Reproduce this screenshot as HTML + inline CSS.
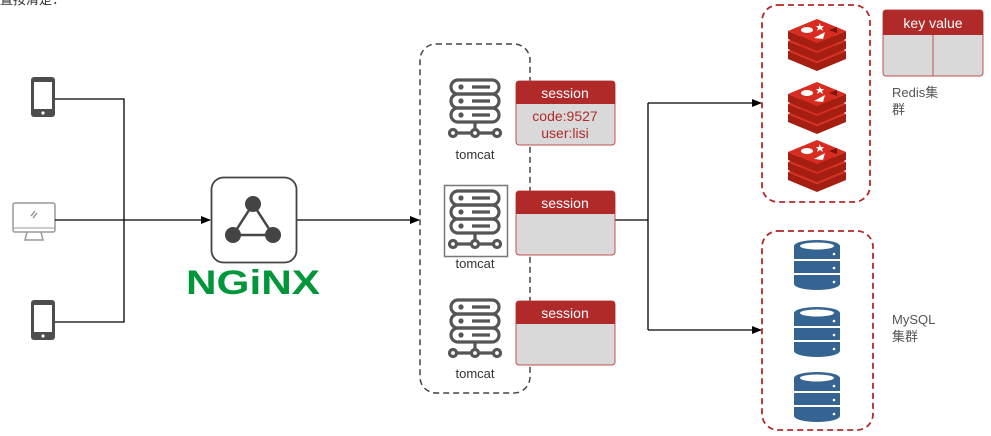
<!DOCTYPE html>
<html><head><meta charset="utf-8"><style>
html,body{margin:0;padding:0;background:#fff;}
svg{display:block;font-family:"Liberation Sans","Noto Sans CJK SC",sans-serif;}
</style></head><body>
<svg width="991" height="436" viewBox="0 0 991 436" xmlns="http://www.w3.org/2000/svg">
<defs>
<marker id="ar" markerWidth="10" markerHeight="10" refX="9" refY="5" orient="auto" markerUnits="userSpaceOnUse"><path d="M0,1 L10,5 L0,9 Z" fill="#000"/></marker>
<g id="phone"><rect x="0" y="0" width="24" height="40" rx="3" fill="#4d4d4d"/><rect x="3" y="5" width="18" height="27" fill="#fff"/><circle cx="12" cy="36" r="1.6" fill="#fff"/></g>
<g id="srv" fill="none" stroke="#555" stroke-width="3.2">
<rect x="-24" y="0" width="48" height="14" rx="7"/><rect x="-24" y="14" width="48" height="14" rx="7"/><rect x="-24" y="28" width="48" height="14" rx="7"/>
<line x1="-3" y1="7" x2="15" y2="7"/><line x1="-3" y1="21" x2="15" y2="21"/><line x1="-3" y1="35" x2="15" y2="35"/>
<circle cx="-14" cy="7" r="1" fill="#555"/><circle cx="-14" cy="21" r="1" fill="#555"/><circle cx="-14" cy="35" r="1" fill="#555"/>
<line x1="0" y1="42" x2="0" y2="50"/><line x1="-19" y1="53" x2="19" y2="53"/>
<circle cx="-22" cy="53" r="3.5" fill="#fff"/><circle cx="0" cy="53" r="3.5" fill="#fff"/><circle cx="22" cy="53" r="3.5" fill="#fff"/>
</g>
<g id="redis">
<path d="M-29,30 L0,42 L29,30 L29,38 L0,50 L-29,38 Z" fill="#a41e11"/>
<path d="M-29,30 L0,18 L29,30 L0,42 Z" fill="#d82c20"/>
<path d="M-29,20 L0,32 L29,20 L29,28 L0,40 L-29,28 Z" fill="#a41e11"/>
<path d="M-29,20 L0,8 L29,20 L0,32 Z" fill="#d82c20"/>
<path d="M-29,10 L0,22 L29,10 L29,18 L0,30 L-29,18 Z" fill="#a41e11"/>
<path d="M-29,10 L0,-2 L29,10 L0,22 Z" fill="#d82c20"/>
<ellipse cx="-10" cy="9" rx="6" ry="3" fill="#fff"/><path d="M2,2 l2,3 l3,0 l-2,2 l1,3 l-3,-2 l-3,2 l1,-3 l-2,-2 l3,0z" fill="#fff"/>
<path d="M-3,17 L8,11 L6,18 Z" fill="#fff"/><path d="M12,9 L20,6 L20,12 Z" fill="#7a1208"/>
</g>
<g id="db">
<path d="M-23,6 v38 a23,6 0 0 0 46,0 v-38" fill="#356492"/>
<ellipse cx="0" cy="6" rx="23" ry="6" fill="#356492"/>
<ellipse cx="0" cy="6" rx="17" ry="3.5" fill="#fff"/>
<line x1="-23" y1="20" x2="23" y2="20" stroke="#fff" stroke-width="2"/>
<line x1="-23" y1="34" x2="23" y2="34" stroke="#fff" stroke-width="2"/>
<circle cx="17" cy="14" r="1.3" fill="#fff"/><circle cx="17" cy="28" r="1.3" fill="#fff"/><circle cx="17" cy="42" r="1.3" fill="#fff"/>
</g>
</defs>

<text x="0" y="4" font-size="13" fill="#333">置按清楚：</text>

<use href="#phone" x="31" y="77"/>
<use href="#phone" x="31" y="300"/>
<g>
<rect x="13" y="203" width="42" height="29" rx="2" fill="#fff" stroke="#999" stroke-width="1.5"/>
<line x1="13" y1="228" x2="55" y2="228" stroke="#999"/>
<path d="M27,232 L25,240 L43,240 L41,232" fill="none" stroke="#999" stroke-width="1.5"/>
<path d="M31,216 l4,-5 M33,218 l4,-5" stroke="#999" stroke-width="1.5"/>
</g>

<g stroke="#000" stroke-width="1.3" fill="none">
<polyline points="55,99 124,99 124,322 55,322"/>
<line x1="55" y1="220" x2="210" y2="220" marker-end="url(#ar)"/>
<line x1="297" y1="220" x2="419" y2="220" marker-end="url(#ar)"/>
<polyline points="615,220 648,220"/>
<polyline points="648,103 648,330"/>
<line x1="648" y1="103" x2="761" y2="103" marker-end="url(#ar)"/>
<line x1="648" y1="330" x2="761" y2="330" marker-end="url(#ar)"/>
</g>

<rect x="211.5" y="177.5" width="85" height="85" rx="12" fill="#fff" stroke="#444" stroke-width="1.8"/>
<g stroke="#444" stroke-width="2.5"><line x1="253" y1="204" x2="233" y2="235"/><line x1="253" y1="204" x2="273" y2="235"/><line x1="233" y1="235" x2="273" y2="235"/></g>
<circle cx="253" cy="204" r="8" fill="#444"/><circle cx="233" cy="235" r="8" fill="#444"/><circle cx="273" cy="235" r="8" fill="#444"/>
<text x="253" y="294" font-size="34" font-weight="bold" fill="#009639" text-anchor="middle" textLength="134" lengthAdjust="spacingAndGlyphs">NGiNX</text>

<rect x="420" y="44" width="110" height="349" rx="16" fill="none" stroke="#444" stroke-width="1.5" stroke-dasharray="6,4"/>

<use href="#srv" x="475" y="80"/>
<text x="475" y="159" font-size="13" fill="#333" text-anchor="middle">tomcat</text>
<rect x="444.5" y="185.5" width="63" height="71" fill="#fff" stroke="#777" stroke-width="1.5"/>
<use href="#srv" x="475" y="191"/>
<text x="475" y="268" font-size="13" fill="#333" text-anchor="middle">tomcat</text>
<use href="#srv" x="475" y="300"/>
<text x="475" y="378" font-size="13" fill="#333" text-anchor="middle">tomcat</text>

<g>
<rect x="516" y="81" width="99" height="64" rx="3" fill="#d9d9d9" stroke="#c0504d"/>
<path d="M516,104 V84 a3,3 0 0 1 3,-3 H612 a3,3 0 0 1 3,3 V104 Z" fill="#b12a2a"/>
<text x="565" y="98" font-size="14" fill="#fff" text-anchor="middle">session</text>
<text x="565" y="121" font-size="14" fill="#b12a2a" text-anchor="middle">code:9527</text>
<text x="565" y="138" font-size="14" fill="#b12a2a" text-anchor="middle">user:lisi</text>

<rect x="516" y="191" width="99" height="64" rx="3" fill="#d9d9d9" stroke="#c0504d"/>
<path d="M516,214 V194 a3,3 0 0 1 3,-3 H612 a3,3 0 0 1 3,3 V214 Z" fill="#b12a2a"/>
<text x="565" y="208" font-size="14" fill="#fff" text-anchor="middle">session</text>

<rect x="516" y="301" width="99" height="64" rx="3" fill="#d9d9d9" stroke="#c0504d"/>
<path d="M516,324 V304 a3,3 0 0 1 3,-3 H612 a3,3 0 0 1 3,3 V324 Z" fill="#b12a2a"/>
<text x="565" y="318" font-size="14" fill="#fff" text-anchor="middle">session</text>
</g>

<rect x="762" y="5" width="108" height="197" rx="16" fill="none" stroke="#b12a2a" stroke-width="1.8" stroke-dasharray="6,4"/>
<use href="#redis" x="817" y="21"/>
<use href="#redis" x="817" y="84"/>
<use href="#redis" x="817" y="142"/>

<rect x="883" y="10" width="100" height="66" rx="3" fill="#d9d9d9" stroke="#c0504d"/>
<path d="M883,35 V13 a3,3 0 0 1 3,-3 H980 a3,3 0 0 1 3,3 V35 Z" fill="#b12a2a"/>
<line x1="933" y1="35" x2="933" y2="76" stroke="#c0504d"/>
<text x="933" y="28" font-size="14" fill="#fff" text-anchor="middle">key  value</text>
<text x="892" y="97" font-size="13" fill="#555">Redis集</text>
<text x="892" y="114" font-size="13" fill="#555">群</text>

<rect x="762" y="231" width="111" height="199" rx="16" fill="none" stroke="#b12a2a" stroke-width="1.8" stroke-dasharray="6,4"/>
<use href="#db" x="817" y="240"/>
<use href="#db" x="817" y="307"/>
<use href="#db" x="817" y="372"/>
<text x="892" y="324" font-size="13" fill="#555">MySQL</text>
<text x="892" y="341" font-size="13" fill="#555">集群</text>
</svg>
</body></html>
